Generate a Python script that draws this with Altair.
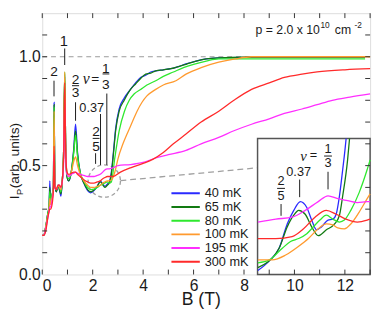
import altair as alt
import pandas as pd

# ---------------- data ----------------
TEMPS = ["40 mK", "65 mK", "80 mK", "100 mK", "195 mK", "300 mK"]
COLORS = ["#2a2aff", "#127a12", "#2ee82e", "#ff9a2e", "#ff2eff", "#ff2a2a"]

LOW_B = [0.00, 0.06, 0.14, 0.22, 0.27, 0.30, 0.33, 0.40, 0.44, 0.47, 0.50, 0.56,
         0.63, 0.68, 0.74, 0.80, 0.85, 0.89, 0.93, 0.98, 1.05, 1.15, 1.25, 1.32,
         1.40, 1.50, 1.65, 1.80, 1.92, 2.05, 2.18, 2.30, 2.40, 2.48, 2.58, 2.66]

LOW_I_40 = [0.18, 0.18, 0.22, 0.28, 0.31, 0.43, 0.33, 0.37, 0.40, 0.79, 0.41, 0.38,
            0.41, 0.39, 0.36, 0.44, 0.58, 0.91, 0.58, 0.45, 0.43, 0.47, 0.58, 0.69,
            0.56, 0.47, 0.42, 0.385, 0.375, 0.385, 0.405, 0.43, 0.415, 0.405, 0.415, 0.425]
LOW_I_65 = [0.18, 0.18, 0.22, 0.28, 0.31, 0.40, 0.33, 0.37, 0.40, 0.78, 0.41, 0.38,
            0.41, 0.39, 0.37, 0.44, 0.58, 0.92, 0.58, 0.45, 0.43, 0.47, 0.57, 0.66,
            0.55, 0.47, 0.42, 0.39, 0.38, 0.388, 0.405, 0.425, 0.412, 0.40, 0.41, 0.42]
LOW_I_80 = [0.18, 0.18, 0.22, 0.28, 0.31, 0.38, 0.33, 0.37, 0.40, 0.77, 0.41, 0.39,
            0.41, 0.40, 0.38, 0.44, 0.58, 0.93, 0.58, 0.46, 0.44, 0.47, 0.56, 0.64,
            0.54, 0.47, 0.43, 0.40, 0.39, 0.392, 0.40, 0.41, 0.415, 0.42, 0.425, 0.42]
LOW_I_100 = [0.18, 0.18, 0.22, 0.27, 0.30, 0.35, 0.32, 0.36, 0.39, 0.75, 0.40, 0.39,
             0.41, 0.40, 0.39, 0.44, 0.58, 0.93, 0.58, 0.47, 0.45, 0.47, 0.52, 0.54,
             0.50, 0.46, 0.43, 0.41, 0.40, 0.40, 0.405, 0.41, 0.42, 0.425, 0.43, 0.43]
LOW_I_195 = [0.18, 0.18, 0.21, 0.26, 0.29, 0.31, 0.31, 0.35, 0.38, 0.55, 0.40, 0.39,
             0.41, 0.41, 0.40, 0.43, 0.52, 0.80, 0.55, 0.46, 0.45, 0.46, 0.465, 0.47,
             0.465, 0.46, 0.455, 0.45, 0.45, 0.45, 0.455, 0.46, 0.47, 0.48, 0.485, 0.485]
LOW_I_300 = [0.18, 0.18, 0.20, 0.26, 0.29, 0.30, 0.30, 0.33, 0.38, 0.59, 0.40, 0.39,
             0.41, 0.41, 0.40, 0.44, 0.55, 0.88, 0.56, 0.47, 0.46, 0.465, 0.47, 0.47,
             0.46, 0.45, 0.435, 0.425, 0.42, 0.42, 0.425, 0.43, 0.44, 0.445, 0.45, 0.45]

HIGH_B_40 = [2.74, 2.82, 2.91, 3.05, 3.25, 3.5, 3.7, 3.9, 4.1, 4.3, 4.5, 4.8, 5.1,
             5.4, 5.7, 6.1, 6.5, 7.0, 8.0, 10.0, 12.8]
HIGH_I_40 = [0.47, 0.56, 0.67, 0.76, 0.81, 0.85, 0.88, 0.905, 0.915, 0.93, 0.935,
             0.94, 0.945, 0.955, 0.967, 0.98, 0.99, 0.995, 0.997, 0.997, 0.997]
HIGH_B_65 = [2.74, 2.82, 2.91, 3.05, 3.25, 3.5, 3.7, 3.9, 4.1, 4.3, 4.5, 4.8, 5.1,
             5.4, 5.7, 6.1, 6.5, 7.0, 8.0, 10.0, 12.8]
HIGH_I_65 = [0.46, 0.55, 0.66, 0.75, 0.80, 0.85, 0.875, 0.90, 0.92, 0.925, 0.935,
             0.94, 0.945, 0.955, 0.965, 0.98, 0.99, 0.995, 0.998, 0.998, 0.998]
HIGH_B_80 = [2.74, 2.87, 3.05, 3.26, 3.45, 3.65, 3.9, 4.15, 4.5, 4.8, 5.2, 5.6,
             6.0, 6.5, 7.0, 8.0, 10.0, 12.8]
HIGH_I_80 = [0.425, 0.53, 0.66, 0.75, 0.80, 0.83, 0.85, 0.87, 0.89, 0.91, 0.93,
             0.95, 0.965, 0.98, 0.99, 0.99, 0.99, 0.99]
HIGH_B_100 = [2.78, 2.9, 3.0, 3.2, 3.38, 3.57, 3.76, 3.95, 4.15, 4.5, 4.8, 5.3,
              5.7, 6.3, 7.0, 7.65, 8.3, 10.0, 13.0]
HIGH_I_100 = [0.44, 0.48, 0.53, 0.60, 0.65, 0.70, 0.75, 0.79, 0.82, 0.85, 0.87,
              0.89, 0.92, 0.95, 0.975, 0.99, 1.0, 1.0, 1.0]
HIGH_B_195 = [2.8, 3.0, 3.5, 4.0, 4.5, 5.0, 5.7, 6.3, 7.0, 7.6, 8.3, 9.0, 9.6,
              10.3, 10.9, 11.5, 12.2, 13.0]
HIGH_I_195 = [0.49, 0.50, 0.505, 0.515, 0.535, 0.55, 0.57, 0.60, 0.63, 0.66, 0.69,
              0.715, 0.74, 0.76, 0.78, 0.80, 0.815, 0.83]
HIGH_B_300 = [2.8, 3.1, 3.5, 4.0, 4.4, 4.8, 5.2, 5.7, 6.3, 7.0, 7.6, 8.3, 9.0, 9.6,
              10.3, 10.9, 12.0, 13.0]
HIGH_I_300 = [0.45, 0.47, 0.49, 0.51, 0.53, 0.56, 0.60, 0.645, 0.70, 0.75, 0.80,
              0.85, 0.88, 0.905, 0.92, 0.93, 0.94, 0.945]

# inset (zoom around the dashed circle)
INSET_B_40 = [1.863, 1.98, 2.08, 2.163, 2.23, 2.297, 2.363, 2.413, 2.463, 2.513,
              2.58, 2.63, 2.663, 2.697, 2.73, 2.753, 2.765]
INSET_I_40 = [0.364, 0.374, 0.387, 0.412, 0.426, 0.435, 0.429, 0.416, 0.406, 0.409,
              0.416, 0.417, 0.422, 0.441, 0.468, 0.488, 0.50]
INSET_B_65 = [1.863, 2.08, 2.163, 2.23, 2.28, 2.347, 2.413, 2.48, 2.563, 2.647,
              2.697, 2.73, 2.78, 2.80]
INSET_I_65 = [0.367, 0.387, 0.409, 0.421, 0.426, 0.422, 0.409, 0.400, 0.406, 0.412,
              0.421, 0.441, 0.478, 0.50]
INSET_B_80 = [1.863, 1.98, 2.113, 2.197, 2.28, 2.363, 2.43, 2.497, 2.563, 2.63,
              2.697, 2.747, 2.813, 2.897, 2.98, 3.01]
INSET_I_80 = [0.372, 0.375, 0.387, 0.394, 0.397, 0.402, 0.409, 0.416, 0.421, 0.417,
              0.414, 0.416, 0.426, 0.444, 0.468, 0.478]
INSET_B_100 = [1.863, 2.01, 2.147, 2.28, 2.38, 2.48, 2.563, 2.63, 2.68, 2.747,
               2.813, 2.897, 2.98, 3.01]
INSET_I_100 = [0.375, 0.375, 0.380, 0.389, 0.397, 0.407, 0.412, 0.411, 0.408, 0.407,
               0.412, 0.424, 0.438, 0.443]
INSET_B_195 = [1.863, 2.047, 2.213, 2.347, 2.48, 2.58, 2.68, 2.78, 2.88, 2.98, 3.01]
INSET_I_195 = [0.414, 0.417, 0.419, 0.426, 0.435, 0.441, 0.438, 0.436, 0.434, 0.435,
               0.435]
INSET_B_300 = [1.863, 2.047, 2.213, 2.33, 2.447, 2.563, 2.663, 2.763, 2.88, 2.98, 3.01]
INSET_I_300 = [0.397, 0.397, 0.399, 0.407, 0.419, 0.426, 0.422, 0.417, 0.414, 0.416,
               0.417]

# main-panel annotations (text, B, I, font size)
ANN_TEXT = ["2", "1", "2", "3", "=", "1", "3", "0.37", "2", "5"]
ANN_B = [0.466, 0.854, 1.32, 1.32, 2.10, 2.52, 2.52, 1.96, 2.13, 2.13]
ANN_I = [0.930, 1.074, 0.894, 0.831, 0.899, 0.944, 0.872, 0.764, 0.652, 0.584]
ANN_SIZE = [14, 15, 14, 14, 14, 14, 14, 13, 14, 14]
# marker lines / fraction bars (B, B2, I, I2)
SEG_B = [0.466, 0.89, 1.32, 2.56, 2.31, 2.115, 1.18, 2.39, 2.0]
SEG_B2 = [0.466, 0.89, 1.32, 2.56, 2.31, 2.115, 1.46, 2.66, 2.27]
SEG_I = [0.89, 1.038, 0.791, 0.831, 0.737, 0.557, 0.867, 0.921, 0.625]
SEG_I2 = [0.818, 0.962, 0.706, 0.503, 0.503, 0.508, 0.867, 0.921, 0.625]

# inset annotations
IANN_TEXT = ["=", "1", "3", "0.37", "2", "5"]
IANN_B = [2.43, 2.58, 2.58, 2.28, 2.10, 2.10]
IANN_I = [0.4829, 0.4889, 0.4748, 0.4657, 0.4557, 0.4406]
IANN_SIZE = [13, 13, 13, 13, 13, 13]
ISEG_B = [2.58, 2.29, 2.10, 2.54, 2.06]
ISEG_B2 = [2.58, 2.29, 2.10, 2.62, 2.14]
ISEG_I = [0.4657, 0.4577, 0.4325, 0.4819, 0.4486]
ISEG_I2 = [0.4476, 0.4396, 0.4204, 0.4819, 0.4486]

X_LABELS = [0, 2, 4, 6, 8, 10, 12]
Y_LABELS = [0.0, 0.5, 1.0]
X_TICKS = list(range(0, 14))
Y_TICKS = [0.1, 0.2, 0.3, 0.4, 0.5, 0.6, 0.7, 0.8, 0.9, 1.0, 1.1]

# ---------------- tables ----------------
def curves(pairs):
    rows = []
    for t, bs, is_ in pairs:
        for b, i in zip(bs, is_):
            rows.append({"T": t, "B": b, "I": i})
    return pd.DataFrame(rows)

main_df = curves([
    (TEMPS[0], LOW_B + HIGH_B_40, LOW_I_40 + HIGH_I_40),
    (TEMPS[1], LOW_B + HIGH_B_65, LOW_I_65 + HIGH_I_65),
    (TEMPS[2], LOW_B + HIGH_B_80, LOW_I_80 + HIGH_I_80),
    (TEMPS[3], LOW_B + HIGH_B_100, LOW_I_100 + HIGH_I_100),
    (TEMPS[4], LOW_B + HIGH_B_195, LOW_I_195 + HIGH_I_195),
    (TEMPS[5], LOW_B + HIGH_B_300, LOW_I_300 + HIGH_I_300),
])
inset_df = curves([
    (TEMPS[0], INSET_B_40, INSET_I_40),
    (TEMPS[1], INSET_B_65, INSET_I_65),
    (TEMPS[2], INSET_B_80, INSET_I_80),
    (TEMPS[3], INSET_B_100, INSET_I_100),
    (TEMPS[4], INSET_B_195, INSET_I_195),
    (TEMPS[5], INSET_B_300, INSET_I_300),
]).rename(columns={"B": "b", "I": "i"})

W, H = 335, 267
FONT = "Liberation Sans"
INK = "#1a1a1a"

xs = alt.Scale(domain=[0, 13], nice=False, zero=False)
ys = alt.Scale(domain=[0, 1.2], nice=False, zero=False)
ixs = alt.Scale(domain=[1.86, 3.01], range=[220, 335], nice=False, zero=False)
iys = alt.Scale(domain=[0.36, 0.50], range=[267, 128], nice=False, zero=False)

legend = alt.Legend(title=None, orient="none", legendX=131, legendY=177,
                    symbolType="stroke", symbolSize=841, symbolStrokeWidth=2,
                    labelFontSize=13, labelFont=FONT, labelColor=INK,
                    rowPadding=0, clipHeight=14, padding=0, labelOffset=4)
color_enc = alt.Color("T:N", scale=alt.Scale(domain=TEMPS, range=COLORS),
                      sort=TEMPS, legend=legend)

x_axis = alt.Axis(values=X_LABELS, format="d", grid=False, domain=False, ticks=False,
                  tickSize=0, labelFontSize=16, labelFont=FONT, labelColor=INK,
                  labelPadding=3, title="B (T)", titleFont=FONT, titleFontSize=18,
                  titleFontWeight="normal", titleColor=INK, titleX=162, titleY=31,
                  titleBaseline="alphabetic")
y_axis = alt.Axis(values=Y_LABELS, format=".1f", grid=False, domain=False, ticks=False,
                  tickSize=0, labelFontSize=16, labelFont=FONT, labelColor=INK,
                  labelPadding=2, title=None)

# ---------------- main panel ----------------
ref_df = pd.DataFrame({"B": [0.0], "B2": [13.0], "I": [1.0]})
ref_line = alt.Chart(ref_df).mark_rule(color="#9a9a9a", strokeDash=[5, 4], strokeWidth=1).encode(
    x=alt.X("B:Q", scale=xs, axis=x_axis), x2="B2:Q", y=alt.Y("I:Q", scale=ys, axis=y_axis))

circ_df = pd.DataFrame({"B": [2.46], "I": [0.429]})
circ = alt.Chart(circ_df).mark_point(shape="circle", size=1089, filled=False, color="#a0a0a0",
                                     strokeDash=[4, 3], strokeWidth=1.3, opacity=1).encode(
    x="B:Q", y="I:Q")

conn_df = pd.DataFrame({"B": [3.10], "B2": [8.54], "I": [0.431], "I2": [0.49]})
conn = alt.Chart(conn_df).mark_rule(color="#a0a0a0", strokeDash=[6, 4], strokeWidth=1.3).encode(
    x="B:Q", x2="B2:Q", y="I:Q", y2="I2:Q")

lines = alt.Chart(main_df).mark_line(strokeWidth=1.3, interpolate="monotone").encode(
    x="B:Q", y="I:Q", color=color_enc, order="B:Q")

ann_df = pd.DataFrame({"t": ANN_TEXT, "B": ANN_B, "I": ANN_I, "fs": ANN_SIZE})
ann = alt.Chart(ann_df).mark_text(font=FONT, color=INK, baseline="middle", align="center").encode(
    x="B:Q", y="I:Q", text="t:N", size=alt.Size("fs:Q", scale=None))

nu_df = pd.DataFrame({"t": ["\u03bd"], "B": [1.746], "I": [0.899]})
nu = alt.Chart(nu_df).mark_text(font="Liberation Serif", fontStyle="italic", fontSize=16,
                                color=INK, baseline="middle", align="center").encode(
    x="B:Q", y="I:Q", text="t:N")

seg_df = pd.DataFrame({"B": SEG_B, "B2": SEG_B2, "I": SEG_I, "I2": SEG_I2})
segs = alt.Chart(seg_df).mark_rule(color=INK, strokeWidth=1).encode(
    x="B:Q", x2="B2:Q", y="I:Q", y2="I2:Q")

dens_df = pd.DataFrame({"t": ["p = 2.0 x 10", "10", "cm", "-2"],
                        "B": [8.46, 11.03, 11.60, 12.38],
                        "I": [1.106, 1.134, 1.106, 1.134],
                        "fs": [12.5, 8.5, 12.5, 8.5]})
dens = alt.Chart(dens_df).mark_text(font=FONT, color=INK, baseline="alphabetic", align="left").encode(
    x="B:Q", y="I:Q", text="t:N", size=alt.Size("fs:Q", scale=None))

main = alt.layer(ref_line, circ, conn, lines, segs, ann, nu, dens)

# ---------------- inset ----------------
box_df = pd.DataFrame({"b": [1.86], "b2": [3.01], "i": [0.36], "i2": [0.50]})
box = alt.Chart(box_df).mark_rect(fill="white", stroke="#555555", strokeWidth=1.5).encode(
    x=alt.X("b:Q", scale=ixs, axis=None), x2="b2:Q",
    y=alt.Y("i:Q", scale=iys, axis=None), y2="i2:Q")
ilines = alt.Chart(inset_df).mark_line(strokeWidth=1.3, interpolate="monotone").encode(
    x="b:Q", y="i:Q", color=color_enc, order="b:Q")
iann_df = pd.DataFrame({"t": IANN_TEXT, "b": IANN_B, "i": IANN_I, "fs": IANN_SIZE})
iann = alt.Chart(iann_df).mark_text(font=FONT, color=INK, baseline="middle", align="center").encode(
    x="b:Q", y="i:Q", text="t:N", size=alt.Size("fs:Q", scale=None))
inu_df = pd.DataFrame({"t": ["\u03bd"], "b": [2.33], "i": [0.4819]})
inu = alt.Chart(inu_df).mark_text(font="Liberation Serif", fontStyle="italic", fontSize=15,
                                  color=INK, baseline="middle", align="center").encode(
    x="b:Q", y="i:Q", text="t:N")
iseg_df = pd.DataFrame({"b": ISEG_B, "b2": ISEG_B2, "i": ISEG_I, "i2": ISEG_I2})
isegs = alt.Chart(iseg_df).mark_rule(color=INK, strokeWidth=1).encode(
    x="b:Q", x2="b2:Q", y="i:Q", y2="i2:Q")
inset = alt.layer(box, ilines, isegs, iann, inu)

# ---------------- inward ticks + y title ----------------
txs = alt.Scale(domain=[0, 13], nice=False, zero=False)
tys = alt.Scale(domain=[0, 1.2], nice=False, zero=False)
xt_df = pd.DataFrame({"tb": X_TICKS})
yt_df = pd.DataFrame({"ti": Y_TICKS})
tick_bot = alt.Chart(xt_df).mark_rule(color="#333333", strokeWidth=1).encode(
    x=alt.X("tb:Q", scale=txs, axis=None), y=alt.value(H), y2=alt.value(H - 5))
tick_top = alt.Chart(xt_df).mark_rule(color="#333333", strokeWidth=1).encode(
    x=alt.X("tb:Q", scale=txs, axis=None), y=alt.value(0), y2=alt.value(5))
tick_left = alt.Chart(yt_df).mark_rule(color="#333333", strokeWidth=1).encode(
    y=alt.Y("ti:Q", scale=tys, axis=None), x=alt.value(0), x2=alt.value(5))
tick_right = alt.Chart(yt_df).mark_rule(color="#333333", strokeWidth=1).encode(
    y=alt.Y("ti:Q", scale=tys, axis=None), x=alt.value(W), x2=alt.value(W - 5))

ytitle_I = alt.Chart(pd.DataFrame({"t": ["I"]})).mark_text(
    font=FONT, fontSize=14, color=INK, angle=270, align="left", baseline="alphabetic").encode(
    text="t:N", x=alt.value(-23.5), y=alt.value(190))
ytitle_P = alt.Chart(pd.DataFrame({"t": ["P"]})).mark_text(
    font=FONT, fontSize=9.5, color=INK, angle=270, align="left", baseline="alphabetic").encode(
    text="t:N", x=alt.value(-20), y=alt.value(185.8))
ytitle_R = alt.Chart(pd.DataFrame({"t": ["(arb. units)"]})).mark_text(
    font=FONT, fontSize=14, color=INK, angle=270, align="left", baseline="alphabetic").encode(
    text="t:N", x=alt.value(-23.5), y=alt.value(179))

ticks = alt.layer(tick_bot, tick_top, tick_left, tick_right, ytitle_I, ytitle_P, ytitle_R)

chart = alt.layer(main, inset, ticks).resolve_scale(
    x="independent", y="independent"
).properties(
    width=W, height=H,
    autosize=alt.AutoSizeParams(type="none"),
    padding={"left": 35, "top": 2, "right": 5, "bottom": 34},
).configure_view(
    stroke="#333333", strokeWidth=1.5
).configure(font=FONT)

chart.save("out.html", embed_options={"renderer": "svg", "actions": False})
